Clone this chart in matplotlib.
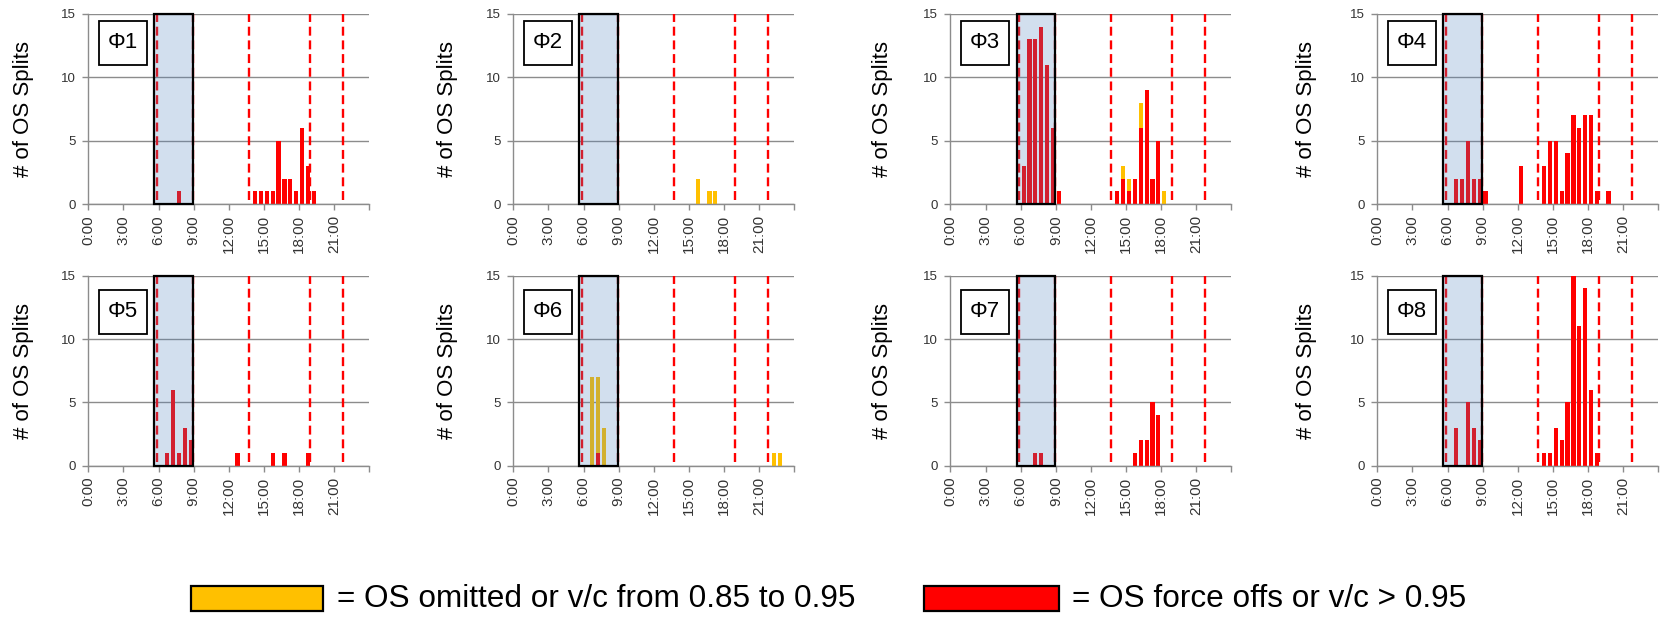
import matplotlib
matplotlib.use("Agg")
import matplotlib.pyplot as plt
from matplotlib.patches import Rectangle

plt.rcParams['font.family'] = ['Liberation Sans', 'DejaVu Sans']

# ---------------------------------------------------------------- data
phase_names = ["Φ1", "Φ2", "Φ3", "Φ4", "Φ5", "Φ6", "Φ7", "Φ8"]
hour_ticks = [0, 3, 6, 9, 12, 15, 18, 21, 24]
hour_labels = ["0:00", "3:00", "6:00", "9:00", "12:00", "15:00", "18:00", "21:00", ""]
y_ticks = [0, 5, 10, 15]

# 30-minute slots (start time) and OS split counts
phi1_red_slots = ["7:30", "14:00", "14:30", "15:00", "15:30", "16:00", "16:30",
                  "17:00", "17:30", "18:00", "18:30", "19:00"]
phi1_red = [1, 1, 1, 1, 1, 5, 2, 2, 1, 6, 3, 1]
phi1_yellow_slots = []
phi1_yellow = []

phi2_red_slots = []
phi2_red = []
phi2_yellow_slots = ["15:30", "16:30", "17:00"]
phi2_yellow = [2, 1, 1]

phi3_red_slots = ["6:00", "6:30", "7:00", "7:30", "8:00", "8:30", "9:00",
                  "14:00", "14:30", "15:00", "15:30", "16:00", "16:30", "17:00", "17:30"]
phi3_red = [3, 13, 13, 14, 11, 6, 1, 1, 2, 1, 2, 6, 9, 2, 5]
phi3_yellow_slots = ["14:30", "15:00", "16:00", "18:00"]
phi3_yellow = [1, 1, 2, 1]

phi4_red_slots = ["6:30", "7:00", "7:30", "8:00", "8:30", "9:00", "12:00",
                  "14:00", "14:30", "15:00", "15:30", "16:00", "16:30", "17:00",
                  "17:30", "18:00", "18:30", "19:30"]
phi4_red = [2, 2, 5, 2, 2, 1, 3, 3, 5, 5, 1, 4, 7, 6, 7, 7, 1, 1]
phi4_yellow_slots = []
phi4_yellow = []

phi5_red_slots = ["6:30", "7:00", "7:30", "8:00", "8:30", "12:30", "15:30", "16:30", "18:30"]
phi5_red = [1, 6, 1, 3, 2, 1, 1, 1, 1]
phi5_yellow_slots = []
phi5_yellow = []

phi6_red_slots = ["7:00"]
phi6_red = [1]
phi6_yellow_slots = ["6:30", "7:00", "7:30", "22:00", "22:30"]
phi6_yellow = [7, 6, 3, 1, 1]

phi7_red_slots = ["7:00", "7:30", "15:30", "16:00", "16:30", "17:00", "17:30"]
phi7_red = [1, 1, 1, 2, 2, 5, 4]
phi7_yellow_slots = []
phi7_yellow = []

phi8_red_slots = ["6:30", "7:30", "8:00", "8:30", "14:00", "14:30", "15:00", "15:30",
                  "16:00", "16:30", "17:00", "17:30", "18:00", "18:30"]
phi8_red = [3, 5, 3, 2, 1, 1, 3, 2, 5, 15, 11, 14, 6, 1]
phi8_yellow_slots = []
phi8_yellow = []

# peak-period window and period boundaries (hours)
am_peak = (5.65, 8.95)
period_marks = [5.88, 8.93, 13.73, 18.95, 21.72]

legend_labels = ["= OS omitted or v/c from 0.85 to 0.95", "= OS force offs or v/c > 0.95"]

# ---------------------------------------------------------------- style
RED = "#FF0000"
YELLOW = "#FFC000"
GRID = "#8C8C8C"
TXT = "#333333"
SLOT = 0.5
BAR_W = 0.36

red_slots = [phi1_red_slots, phi2_red_slots, phi3_red_slots, phi4_red_slots,
             phi5_red_slots, phi6_red_slots, phi7_red_slots, phi8_red_slots]
red_vals = [phi1_red, phi2_red, phi3_red, phi4_red, phi5_red, phi6_red, phi7_red, phi8_red]
yel_slots = [phi1_yellow_slots, phi2_yellow_slots, phi3_yellow_slots, phi4_yellow_slots,
             phi5_yellow_slots, phi6_yellow_slots, phi7_yellow_slots, phi8_yellow_slots]
yel_vals = [phi1_yellow, phi2_yellow, phi3_yellow, phi4_yellow,
            phi5_yellow, phi6_yellow, phi7_yellow, phi8_yellow]


def to_hours(s):
    h, m = s.split(":")
    return int(h) + int(m) / 60.0


W, H = 1661, 622
fig = plt.figure(figsize=(W / 100, H / 100), dpi=100)

col_left = [88.3, 513.3, 950.5, 1377.3]
row_top = [14.0, 275.7]
ax_w, ax_h = 281.0, 190.0
label_offset = [65, 66, 68, 71]
tag_top = [7.0, 14.0]

for i, name in enumerate(phase_names):
    r, c = divmod(i, 4)
    left, top = col_left[c], row_top[r]
    ax = fig.add_axes([left / W, 1 - (top + ax_h) / H, ax_w / W, ax_h / H])

    # stacked columns: red at the base, yellow above it
    red_x = [to_hours(s) + SLOT / 2 for s in red_slots[i]]
    red_map = dict(zip(red_slots[i], red_vals[i]))
    ax.bar(red_x, red_vals[i], width=BAR_W, color=RED, zorder=2, linewidth=0)
    yel_x = [to_hours(s) + SLOT / 2 for s in yel_slots[i]]
    yel_bottom = [red_map.get(s, 0) for s in yel_slots[i]]
    ax.bar(yel_x, yel_vals[i], bottom=yel_bottom, width=BAR_W, color=YELLOW,
           zorder=2, linewidth=0)

    for xm in period_marks:
        ax.plot([xm, xm], [0.3, 15], color=RED, lw=1.7, zorder=3,
                linestyle=(0, (3.8, 2.0)), solid_capstyle="butt",
                dash_capstyle="butt", clip_on=False)

    ax.add_patch(Rectangle((am_peak[0], 0), am_peak[1] - am_peak[0], 15,
                           facecolor=(0.31, 0.506, 0.741, 0.25), edgecolor="black",
                           linewidth=1.6, zorder=4, clip_on=False))

    ax.set_xlim(0, 24)
    ax.set_ylim(0, 15)
    ax.set_yticks(y_ticks)
    ax.set_xticks(hour_ticks)
    ax.set_xticklabels(hour_labels, rotation=90, fontsize=11, color=TXT)
    ax.tick_params(axis="y", labelsize=9.5, labelcolor=TXT, length=4, width=1,
                   color=GRID, pad=5)
    ax.tick_params(axis="x", length=4, width=1, color=GRID, pad=4)
    ax.grid(axis="y", color=GRID, lw=1.0, zorder=0)
    ax.set_axisbelow(True)
    for s in ("top", "right"):
        ax.spines[s].set_visible(False)
    for s in ("left", "bottom"):
        ax.spines[s].set_color(GRID)
        ax.spines[s].set_linewidth(1.0)

    fig.text((left - label_offset[c]) / W, 1 - (top + ax_h / 2) / H, "# of OS Splits",
             rotation=90, ha="center", va="center", fontsize=16, color="black")

    # phase tag box
    bx0, bw, bh = 10.5, 48.0, 44.0
    ax.add_patch(Rectangle((bx0 / ax_w, 1 - (tag_top[r] + bh) / ax_h), bw / ax_w, bh / ax_h,
                           transform=ax.transAxes, facecolor="white", edgecolor="black",
                           linewidth=1.3, zorder=6, clip_on=False))
    ax.text((bx0 + bw / 2) / ax_w, 1 - (tag_top[r] + bh / 2) / ax_h, name,
            transform=ax.transAxes, ha="center", va="center", fontsize=16, zorder=7)

# legend along the bottom
leg_boxes = [(190.7, 323.1, YELLOW), (923.7, 1059.3, RED)]
leg_text_x = [337.0, 1072.0]
for (x0, x1, col), tx, lab in zip(leg_boxes, leg_text_x, legend_labels):
    fig.patches.append(Rectangle((x0 / W, (H - 611.2) / H), (x1 - x0) / W, 25.4 / H,
                                 transform=fig.transFigure, facecolor=col,
                                 edgecolor="black", linewidth=1.6))
    fig.text(tx / W, (H - 599.0) / H, lab, ha="left", va="center", fontsize=22.7,
             color="black")

fig.savefig("out.png", dpi=100)
